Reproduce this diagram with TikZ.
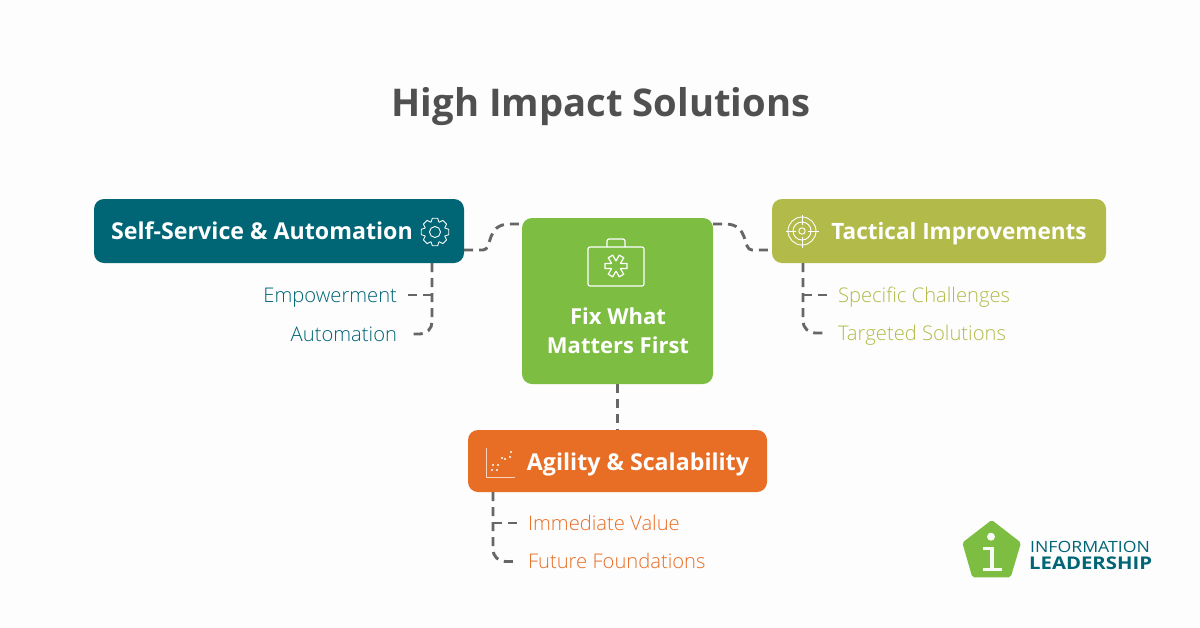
\documentclass[tikz,border=0pt]{standalone}
\usepackage{fontspec}
\setmainfont{Open Sans}
\newfontfamily\lightfont{Open Sans Light}
\usetikzlibrary{positioning}

\definecolor{tealc}{HTML}{006575}
\definecolor{greenc}{HTML}{7CBD42}
\definecolor{olivec}{HTML}{B2BB4A}
\definecolor{orangec}{HTML}{E96E25}
\definecolor{titlec}{HTML}{505050}
\definecolor{dashc}{HTML}{666666}
\definecolor{pagec}{HTML}{FDFDFD}

\tikzset{
  boxnode/.style={rounded corners=10pt,inner sep=0pt,outer sep=0pt},
  boxtext/.style={text=white,inner sep=0pt,anchor=base,font=\fontsize{23}{29}\selectfont\bfseries},
  leftitem/.style={anchor=east,text height=14.5pt,text depth=0pt,inner ysep=0pt,inner xsep=11pt,outer sep=0pt,font=\lightfont\fontsize{20.2}{24}\selectfont},
  rightitem/.style={anchor=west,text height=14.5pt,text depth=0pt,inner ysep=0pt,inner xsep=10pt,outer sep=0pt,font=\lightfont\fontsize{20.2}{24}\selectfont},
  dashline/.style={draw=dashc,line width=2.9pt,dash pattern=on 9pt off 6pt},
  iconline/.style={draw=white,line width=0.9pt,line join=round},
}

\begin{document}
\begin{tikzpicture}[x=1pt,y=-1pt]
\useasboundingbox[fill=pagec] (0,0) rectangle (1200,627);

\node[inner sep=0pt,anchor=base,text=titlec,font=\fontsize{38.2}{46}\selectfont\bfseries] (title) at (601,116) {High Impact Solutions};

% connectors go first, the boxes sit on top
\coordinate (selfout) at (464,250);
\coordinate (fixleft) at (522,224);
\coordinate (fixright) at (713,224);
\coordinate (tactin) at (772,250);
\coordinate (fixdown) at (617.5,384);
\coordinate (agiltop) at (617.5,430);
\coordinate (selftree) at (432,263);
\coordinate (tacttree) at (803,263);
\coordinate (agiltree) at (493,492);

\draw[dashline] (selfout) -- (483,250) .. controls (493,250) and (485,224) .. (510,224) -- (fixleft);
\draw[dashline] (fixright) -- (725,224) .. controls (750,224) and (742,250) .. (752,250) -- (tactin);
\draw[dashline] (fixdown) -- (agiltop);

\node[boxnode,fill=tealc,minimum width=370pt,minimum height=64pt] (selfbox) at (279,231) {};
\node[boxnode,fill=greenc,minimum width=191pt,minimum height=166pt] (fixbox) at (617.5,301) {};
\node[boxnode,fill=olivec,minimum width=334pt,minimum height=64pt] (tactbox) at (939,231) {};
\node[boxnode,fill=orangec,minimum width=299pt,minimum height=62pt] (agilbox) at (617.5,461) {};

\node[boxtext,font=\fontsize{23.2}{29}\selectfont\bfseries] (selftext) at (262,239.5) {Self-Service \& Automation};
\node[boxtext,font=\fontsize{22.5}{29}\selectfont\bfseries] (tacttext) at (959,239.5) {Tactical Improvements};
\node[boxtext,font=\fontsize{23.2}{29}\selectfont\bfseries] (agiltext) at (638,470) {Agility \& Scalability};
\node[boxtext,anchor=center,align=center,font=\fontsize{22}{29}\selectfont\bfseries] (fixtext) at (618,331) {Fix What\\Matters First};

% sub items
\node[leftitem,text=tealc] (empower) at (408,295) {Empowerment};
\node[leftitem,text=tealc] (automate) at (408,334) {Automation};
\node[rightitem,text=olivec] (specific) at (828,295) {Specific Challenges};
\node[rightitem,text=olivec] (targeted) at (828,333) {Targeted Solutions};
\node[rightitem,text=orangec] (immediate) at (518,523) {Immediate Value};
\node[rightitem,text=orangec] (future) at (518,561.5) {Future Foundations};

\draw[dashline,rounded corners=12pt] (selftree) |- (automate.east);
\draw[dashline] (selftree |- empower.east) -- (empower.east);
\draw[dashline,rounded corners=12pt] (tacttree) |- (targeted.west);
\draw[dashline] (tacttree |- specific.west) -- (specific.west);
\draw[dashline,rounded corners=12pt] (agiltree) |- (future.west);
\draw[dashline] (agiltree |- immediate.west) -- (immediate.west);

% gear
\draw[iconline] (435,232) circle (5.5);
\begin{scope}[shift={(435,232)}]
\foreach \a in {0,45,...,315}
  \draw[iconline,rotate=\a] (-22.5:10.5) -- (-11:14) -- (11:14) -- (22.5:10.5);
\end{scope}

% case
\draw[iconline,line width=1.2pt,rounded corners=2pt] (588,247) rectangle (644,286);
\draw[iconline,line width=1.2pt,rounded corners=2pt] (607,247) -- (607,239) -- (625,239) -- (625,247);
\begin{scope}[shift={(616,266)}]
\foreach \a in {0,60,...,300}
  \draw[iconline,line width=1.2pt,rotate=\a] (-30:5) -- (11,-2.6) -- (11,2.6) -- (30:5);
\end{scope}

% target
\begin{scope}[shift={(802,231)}]
\draw[iconline] (0,0) circle (14);
\draw[iconline] (0,0) circle (9);
\draw[iconline] (0,0) circle (3.2);
\foreach \a in {0,90,180,270}
  \draw[iconline,rotate=\a] (6,0) -- (16.5,0);
\end{scope}

% chart
\draw[iconline,draw=white!70!orangec] (486,448) -- (486,477) -- (514.5,477);
\foreach \px/\py in {492/470,498/465,505/459,511/452,493/465,502/458,510/457,497/470}
  \fill[white] (\px,\py) circle (1.1);

% logo
\fill[greenc,rounded corners=2pt] (991.7,520) -- (1021,542.7) -- (1010.7,577.3) -- (972.3,577.3) -- (962.3,542.7) -- cycle;
\fill[white!95!greenc] (991,536.7) circle (4);
\draw[white!95!greenc,line width=3.6pt] (983,548.5) -- (992,548.5) -- (992,569.5);
\draw[white!95!greenc,line width=3.2pt] (982.5,569.5) -- (1001.5,569.5);
\node[inner sep=0pt,text=tealc,anchor=base west,font=\fontsize{15.5}{17}\selectfont] (logoa) at (1030,552.3) {\scalebox{1.14}[1]{INFORMATION}};
\node[inner sep=0pt,text=tealc,anchor=base west,font=\fontsize{17.5}{19}\selectfont\bfseries] (logob) at (1029,569.5) {\scalebox{1.16}[1]{LEADERSHIP}};
\end{tikzpicture}
\end{document}
